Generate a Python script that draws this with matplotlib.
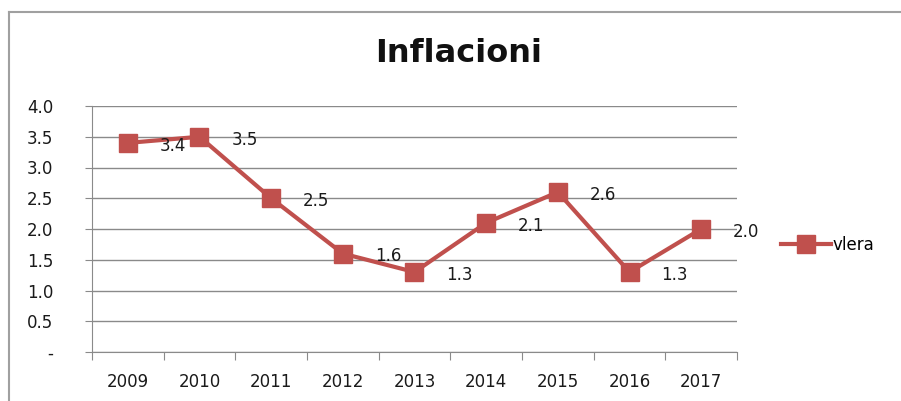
import matplotlib.pyplot as plt
from matplotlib.lines import Line2D

years = ['2009', '2010', '2011', '2012', '2013', '2014', '2015', '2016', '2017']
vlera = [3.4, 3.5, 2.5, 1.6, 1.3, 2.1, 2.6, 1.3, 2.0]
yticks = [0, 0.5, 1.0, 1.5, 2.0, 2.5, 3.0, 3.5, 4.0]
ylabels = ['-', '0.5', '1.0', '1.5', '2.0', '2.5', '3.0', '3.5', '4.0']

red = '#C0504D'
grid = '#8a8a8a'
txt = '#1a1a1a'

fig = plt.figure(figsize=(9.01, 4.01), dpi=100)
ax = fig.add_axes([92 / 901, 1 - 352 / 401, (737 - 92) / 901, (352 - 106) / 401])

x = list(range(len(years)))
ax.plot(x, vlera, color=red, linewidth=3, marker='s', markersize=12.5,
        markerfacecolor=red, markeredgecolor=red, label='vlera', zorder=3)
for xi, v in zip(x, vlera):
    ax.annotate('%.1f' % v, (xi, v), xytext=(23, -2), textcoords='offset points',
                ha='left', va='center', fontsize=12, color=txt)

ax.set_xlim(-0.5, len(years) - 0.5)
ax.set_ylim(0, 4.0)
ax.set_yticks(yticks)
ax.set_yticklabels(ylabels)
# category boundaries carry the tick marks, names sit between them
ax.set_xticks([i - 0.5 for i in range(len(years) + 1)])
ax.set_xticklabels([])
ax.set_xticks(x, minor=True)
ax.set_xticklabels(years, minor=True)
ax.tick_params(axis='x', which='major', length=6, color=grid, direction='out')
ax.tick_params(axis='x', which='minor', length=0, pad=15, labelsize=12, labelcolor=txt)
ax.tick_params(axis='y', length=5, color=grid, pad=23, labelsize=12, labelcolor=txt)

ax.grid(axis='y', color=grid, linewidth=1)
ax.set_axisbelow(True)
for s in ['top', 'right']:
    ax.spines[s].set_visible(False)
for s in ['left', 'bottom']:
    ax.spines[s].set_color(grid)

fig.text(459 / 901, 1 - 54 / 401, 'Inflacioni', ha='center', va='center',
         fontsize=23, fontweight='bold', color='#111111')

handle = Line2D([], [], color=red, linewidth=3, marker='s', markersize=12.5)
fig.legend([handle], ['vlera'], loc='center left', bbox_to_anchor=(766 / 901, 1 - 245 / 401),
           frameon=False, fontsize=12, handlelength=3.0, handletextpad=0.1)

fig.add_artist(Line2D([9 / 901, 1], [1 - 12 / 401, 1 - 12 / 401], color='#a0a0a0', linewidth=1.5))
fig.add_artist(Line2D([9 / 901, 9 / 901], [0, 1 - 12 / 401], color='#a0a0a0', linewidth=1.5))

fig.savefig('out.png', dpi=100)
